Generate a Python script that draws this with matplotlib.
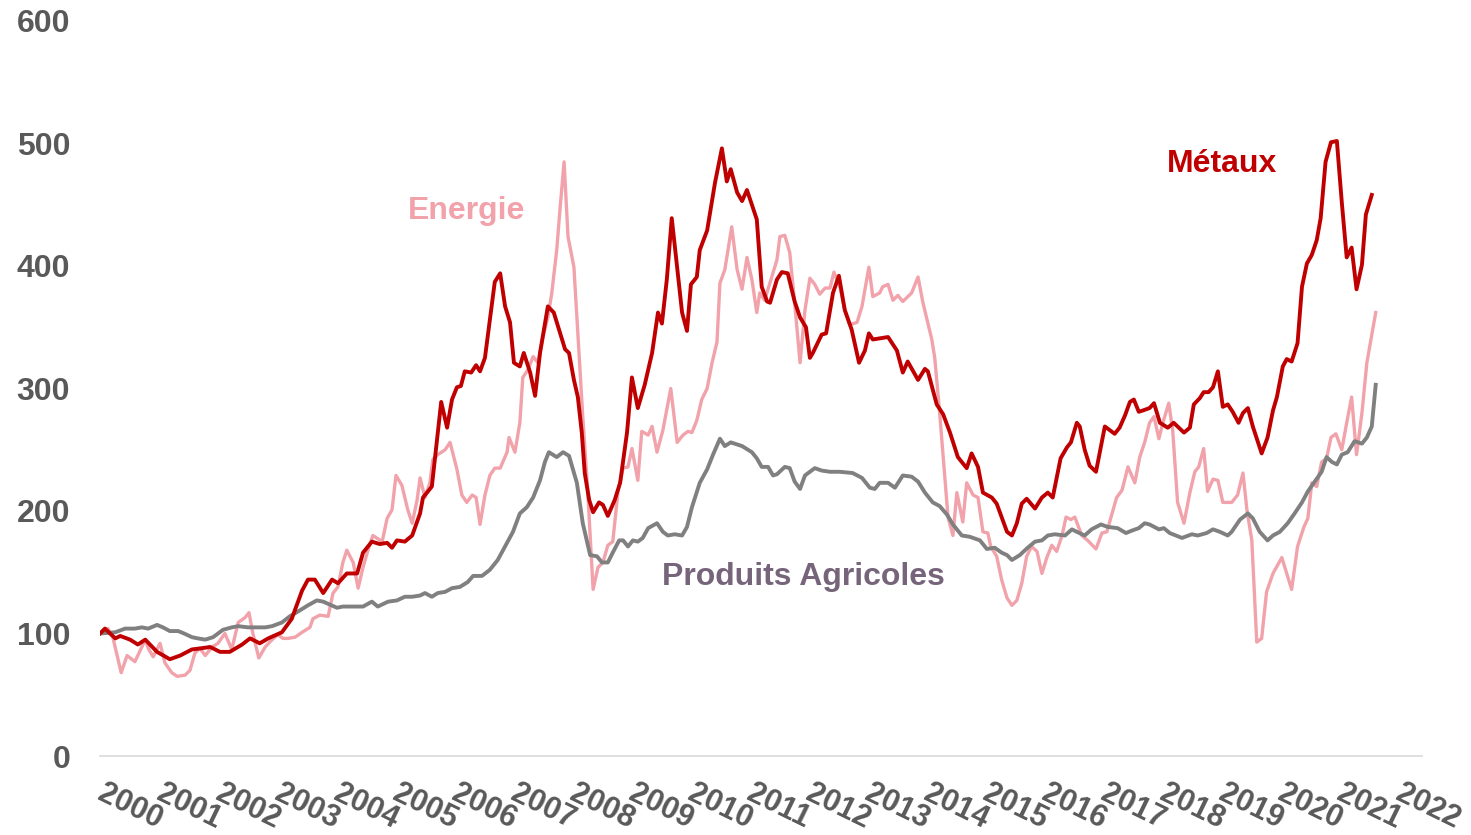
"""
Indices des prix des matières premières (base 100 = premier mois)
Métaux, Energie et Produits Agricoles, données mensuelles
"""

import matplotlib.pyplot as plt
import matplotlib.transforms as mtransforms
import numpy as np

# mois écoulés depuis le début de la série et valeur de l'indice
mois_metaux = [0, 1, 3.1, 4.1, 6.1, 7.7, 9.2, 11.6, 14.2, 16.3, 18.7, 20.7, 22.4, 24.4, 26.4,
               28.9, 30.5, 32.5, 34.2, 37.0, 39.0, 41.1, 42.3, 43.7, 45.4, 47.2, 48.4, 50.2,
               52.3, 53.5, 55.3, 56.9, 58.4, 59.4, 60.4, 62.0, 63.5, 65.1, 65.7, 67.5, 69.4,
               70.6, 71.6, 72.6, 73.4, 74.2, 75.5, 76.5, 77.3, 78.3, 80.3, 81.4, 82.4, 83.4,
               84.2, 85.4, 86.2, 87.5, 88.5, 89.5, 91.1, 92.3, 94.0, 94.6, 95.4, 96.4, 97.2,
               98.0, 98.6, 99.5, 100.3, 101.5, 102.3, 103.3, 104.7, 105.8, 107.2, 108.2, 109.4,
               110.8, 112.3, 113.5, 114.3, 115.3, 116.3, 117.4, 118.4, 119.4, 120.2, 121.4,
               122.0, 123.5, 125.1, 126.5, 127.5, 128.3, 129.6, 130.6, 131.6, 133.6, 134.6,
               135.7, 136.3, 137.7, 138.7, 139.9, 141.3, 142.4, 143.6, 144.4, 145.0, 146.8,
               147.7, 149.1, 150.3, 151.5, 152.9, 154.4, 155.6, 156.4, 157.2, 160.3, 162.1,
               163.3, 164.3, 166.4, 167.8, 168.4, 170.2, 171.5, 172.9, 174.5, 176.3, 177.3,
               178.6, 179.6, 181.4, 182.4, 184.5, 185.5, 186.5, 187.5, 188.5, 190.2, 191.6,
               192.8, 193.8, 195.4, 196.7, 197.5, 198.7, 199.3, 200.3, 201.3, 202.6, 204.4,
               205.4, 206.4, 207.4, 208.5, 209.5, 210.3, 211.3, 212.1, 213.5, 214.4, 215.6,
               217.2, 218.4, 220.5, 221.7, 222.5, 223.7, 224.5, 225.5, 226.4, 227.4, 228.4,
               229.4, 230.4, 231.6, 232.5, 233.5, 234.5, 236.3, 237.5, 238.6, 239.4, 240.6,
               241.4, 242.4, 243.6, 244.5, 245.5, 246.5, 247.5, 248.3, 249.3, 250.4, 251.6,
               252.6, 253.6, 254.6, 255.6, 256.7, 257.5, 258.7]
metaux = [100, 104, 96, 98, 95, 91, 95, 85, 79, 82, 87, 88, 89, 85, 85, 91, 96, 92, 96,
          101, 112, 135, 144, 144, 133, 144, 141, 149, 149, 166, 175, 173, 174,
          170, 176, 175, 180, 198, 211, 220, 289, 268, 291, 301, 302, 314, 313,
          319, 314, 325, 387, 394, 367, 354, 321, 318, 329, 313, 294, 329, 367, 362, 340, 332,
          329, 307, 293, 264, 231, 209, 199, 207, 205, 196, 209, 223, 264,
          309, 284, 303, 329, 362, 353, 389, 439, 399, 362, 347, 385,
          391, 413, 429, 468, 496, 469, 479, 460, 453, 462, 438, 383,
          371, 370, 389, 395, 394, 371, 358, 350, 325, 329, 344, 345,
          378, 392, 364, 348, 321, 331, 345, 340, 342, 331, 313, 322,
          307, 316, 314, 287, 279, 264, 244, 235, 247, 236, 215, 211,
          206, 183, 180, 190, 206, 210, 202, 211, 215, 211, 243, 252,
          256, 272, 269, 250, 237, 232, 269, 266, 263, 268, 278, 289, 291, 281,
          282, 284, 288, 272, 268, 272, 264, 268, 287, 292, 297, 297,
          301, 314, 285, 287, 281, 272, 280, 284, 269, 247, 260,
          282, 293, 318, 324, 322, 337, 383, 402, 409, 421, 439,
          485, 501, 502, 452, 407, 415, 381, 401, 442, 458]

mois_energie = [0, 1.6, 2.6, 4.3, 5.5, 7.1, 9.2, 9.8, 10.8, 12.2, 13.2, 14.6, 15.7, 17.3, 18.3,
                19.3, 20.3, 21.4, 22.8, 24.0, 25.4, 26.8, 28.1, 29.5, 30.3, 31.1, 32.3, 33.6,
                35.0, 36.2, 37.2, 38.2, 39.7, 41.1, 42.7, 43.3, 44.7, 46.4, 47.4, 48.4, 49.4,
                50.2, 51.5, 52.5, 53.5, 54.5, 55.5, 57.4, 58.4, 59.4, 60.2, 61.4, 62.6, 63.5,
                64.5, 65.1, 66.1, 67.1, 67.7, 68.7, 70.2, 71.2, 72.6, 73.6, 74.6, 75.7, 76.5,
                77.3, 78.3, 79.3, 80.3, 81.4, 82.8, 83.2, 84.4, 85.4, 86.0, 87.0, 88.1, 89.1,
                90.1, 91.1, 91.9, 92.9, 93.6, 94.4, 95.2, 96.4, 97.2, 98.2, 99.2, 100.3, 101.3,
                102.3, 103.3, 104.3, 105.4, 106.4, 107.4, 108.2, 109.4, 110.2, 111.5, 112.3,
                113.3, 114.5, 116.1, 117.4, 118.6, 119.6, 120.4, 121.4, 122.4, 123.5, 124.5,
                125.5, 126.1, 127.1, 128.5, 129.6, 130.6, 131.6, 132.6, 133.6, 134.2, 135.2,
                137.7, 138.3, 139.3, 140.3, 141.3, 142.4, 143.4, 144.4, 145.4, 146.4, 147.5,
                148.5, 149.3, 150.5, 151.5, 152.5, 154.0, 155.0, 156.4, 157.2, 158.6, 159.2,
                160.3, 161.3, 162.3, 163.3, 165.1, 166.4, 167.4, 169.2, 169.8, 170.8, 171.9,
                172.5, 173.5, 174.3, 175.5, 176.3, 177.6, 178.6, 179.6, 180.6, 181.2, 182.4,
                183.4, 184.5, 185.5, 186.5, 187.5, 188.5, 189.5, 190.6, 191.6, 192.6, 193.6,
                194.6, 195.7, 196.5, 197.5, 198.3, 199.7, 200.9, 202.6, 203.8, 204.8, 205.8,
                206.8, 207.9, 209.1, 210.5, 211.5, 212.5, 213.5, 214.4, 215.4, 216.2, 217.4,
                218.2, 219.2, 220.5, 221.7, 222.7, 223.5, 224.5, 225.3, 226.4, 227.4, 228.4,
                230.2, 231.4, 232.5, 233.3, 234.3, 235.3, 236.3, 237.3, 238.6, 240.4, 242.4,
                243.6, 244.9, 245.7, 246.5, 247.5, 248.5, 249.5, 250.4, 251.4, 252.6, 253.6,
                254.6, 255.6, 256.7, 257.7, 259.5]
energie = [100, 104, 97, 68, 82, 77, 95, 88, 81, 92, 76, 68, 65, 66, 70, 84, 88, 82,
           89, 92, 100, 87, 109, 113, 117, 100, 80, 89, 95, 99, 96, 96,
           97, 101, 105, 112, 115, 114, 133, 138, 158, 168, 158, 137, 154, 168,
           180, 175, 194, 201, 229, 221, 201, 190, 209, 227, 211, 223, 242, 246,
           250, 256, 234, 213, 207, 213, 211, 189, 213, 229, 235, 235, 248, 260, 248, 272,
           309, 315, 326, 321, 342, 358, 378, 413, 448, 485, 424, 399, 345,
           277, 217, 136, 154, 158, 172, 175, 217, 235, 236, 251, 225,
           265, 262, 269, 248, 266, 300, 256, 262, 265, 264, 274,
           291, 300, 321, 338, 386, 397, 432, 397, 381, 407, 389, 362,
           378, 372, 405, 424, 425, 411, 370, 321, 364, 390, 385, 377, 382, 382, 395,
           383, 364, 352, 354, 367, 399, 375, 378, 383, 385, 372, 376,
           371, 378, 391, 370, 340, 325, 280, 225, 195, 180, 215, 191,
           223, 213, 211, 183, 182, 171, 163, 144, 129, 123, 127,
           141, 163, 171, 167, 149, 162, 172, 167, 180, 195, 193,
           195, 180, 176, 169, 182, 183, 197, 211, 217, 236, 223, 244,
           256, 272, 277, 259, 272, 288, 266, 207, 190, 215, 232, 236,
           251, 216, 226, 225, 207, 207, 213, 231, 201, 176, 93,
           96, 134, 149, 162, 136, 171, 187, 194, 223, 220, 240,
           243, 260, 263, 250, 272, 293, 246, 280, 321, 362]

mois_agri = [0, 3.1, 5.1, 7.1, 8.5, 9.8, 11.6, 12.8, 14.2, 15.9, 17.1, 18.7, 19.9, 21.4, 23.0,
             25.0, 26.8, 28.1, 30.1, 31.5, 33.6, 35.0, 37.0, 38.6, 40.3, 42.3, 44.1, 45.4,
             48.2, 49.4, 51.5, 53.5, 55.3, 56.5, 58.6, 60.4, 62.0, 63.5, 65.1, 66.1, 67.5,
             68.7, 70.2, 71.6, 73.2, 74.8, 75.9, 77.7, 79.3, 80.9, 82.8, 84.0, 85.4, 86.8,
             88.1, 89.5, 90.5, 91.3, 92.9, 94.2, 95.4, 97.0, 98.2, 99.7, 101.1, 102.1, 103.3,
             104.3, 105.6, 106.4, 107.4, 108.4, 109.4, 110.4, 111.5, 113.3, 114.5, 115.5,
             116.9, 118.4, 119.4, 120.4, 122.0, 123.5, 124.7, 126.1, 127.1, 128.3, 130.6,
             132.6, 133.6, 134.6, 135.9, 136.9, 137.7, 139.3, 140.3, 141.3, 142.4, 143.4,
             145.4, 146.8, 148.5, 150.5, 153.1, 155.0, 156.6, 157.6, 158.6, 160.3, 161.7,
             163.3, 165.1, 166.4, 167.8, 169.4, 170.8, 172.3, 173.5, 175.3, 176.9, 179.0,
             180.4, 182.0, 183.4, 184.5, 185.5, 187.1, 188.7, 190.2, 191.6, 192.8, 194.2,
             196.3, 197.7, 198.7, 200.3, 201.7, 203.6, 205.0, 207.0, 208.7, 209.9, 211.3,
             212.5, 213.5, 215.4, 216.4, 217.6, 220.1, 222.1, 223.3, 225.1, 226.4, 227.8,
             229.4, 230.2, 231.9, 233.5, 234.5, 235.9, 237.5, 238.6, 240.0, 241.6, 243.0,
             244.5, 245.7, 247.1, 248.5, 249.5, 250.6, 251.6, 252.6, 253.8, 255.2, 256.7,
             257.7, 258.7, 259.5]
agricoles = [100, 101, 104, 104, 105, 104, 107, 105, 102, 102, 100, 97, 96, 95, 97, 103, 105,
             106, 105, 105, 105, 106, 109, 114, 118, 123, 127, 126, 121, 122, 122, 122,
             126, 122, 126, 127, 130, 130, 131, 133, 130, 133, 134, 137, 138, 142, 147,
             147, 152, 160, 174, 183, 198, 203, 211, 225, 240, 248, 244, 248, 245, 223,
             190, 164, 163, 158, 158, 166, 176, 176, 171, 176, 175, 178,
             186, 190, 183, 180, 181, 180, 187, 203, 223, 234, 246, 259,
             253, 256, 253, 248, 243, 236, 236, 229, 230, 236, 235, 224, 218,
             229, 235, 233, 232, 232, 231, 227, 219, 218, 223, 223, 219, 229, 228,
             224, 215, 207, 204, 197, 189, 180, 179, 176, 169, 170, 166, 164,
             160, 164, 170, 175, 176, 180, 181, 180, 185, 183, 180, 185, 189,
             187, 186, 182, 184, 186, 190, 189, 185, 186, 182, 178, 181,
             180, 182, 185, 183, 180, 183, 193, 198, 194, 183, 176, 180, 183,
             190, 198, 207, 216, 224, 232, 244, 240, 238, 246, 248, 257,
             255, 260, 269, 303]

annees = [str(a) for a in range(2000, 2023)]

ROUGE = '#C00000'
ROSE = '#F2A2AA'
GRIS = '#808080'
TEXTE = '#595959'


def en_annees(mois):
    # mois depuis le début -> année décimale
    return 2000 + np.asarray(mois) / 12.0


def creer_graphique():
    plt.rcParams['font.family'] = ['Liberation Sans', 'DejaVu Sans']
    fig = plt.figure(figsize=(14.71, 8.35), dpi=100)
    ax = fig.add_axes([0.068, 0.0946, 0.8987, 0.8803])

    ax.plot(en_annees(mois_energie), energie, color=ROSE, linewidth=2.4, zorder=2)
    ax.plot(en_annees(mois_agri), agricoles, color=GRIS, linewidth=2.8, zorder=3)
    ax.plot(en_annees(mois_metaux), metaux, color=ROUGE, linewidth=2.8, zorder=4)

    # étiquettes des séries
    ax.text(2006.22, 445, 'Energie', color=ROSE, fontsize=23, fontweight='bold',
            ha='center', va='center')
    ax.text(2019.02, 483, 'Métaux', color=ROUGE, fontsize=23, fontweight='bold',
            ha='center', va='center')
    ax.text(2011.92, 146, 'Produits Agricoles', color='#76657A', fontsize=23,
            fontweight='bold', ha='center', va='center')

    ax.set_xlim(2000, 2022.41)
    ax.set_ylim(0, 600)
    ax.set_yticks(range(0, 601, 100))
    ax.set_xticks(range(2000, 2023))
    ax.set_xticklabels(annees, rotation=-26, ha='left', va='top',
                       rotation_mode='anchor')

    ax.tick_params(axis='y', length=0, pad=21.5, labelsize=23, labelcolor=TEXTE)
    ax.tick_params(axis='x', length=0, pad=16, labelsize=22, labelcolor=TEXTE)
    # léger décalage à droite des années
    decalage = mtransforms.ScaledTranslation(4.5 / 72, 0, fig.dpi_scale_trans)
    for lab in ax.get_xticklabels():
        lab.set_fontweight('bold')
        lab.set_transform(lab.get_transform() + decalage)
    for lab in ax.get_yticklabels():
        lab.set_fontweight('bold')

    for cote in ['top', 'right', 'left']:
        ax.spines[cote].set_visible(False)
    ax.spines['bottom'].set_color('#D9D9D9')
    ax.spines['bottom'].set_linewidth(1.2)

    fig.savefig('out.png', dpi=100)


if __name__ == '__main__':
    creer_graphique()
